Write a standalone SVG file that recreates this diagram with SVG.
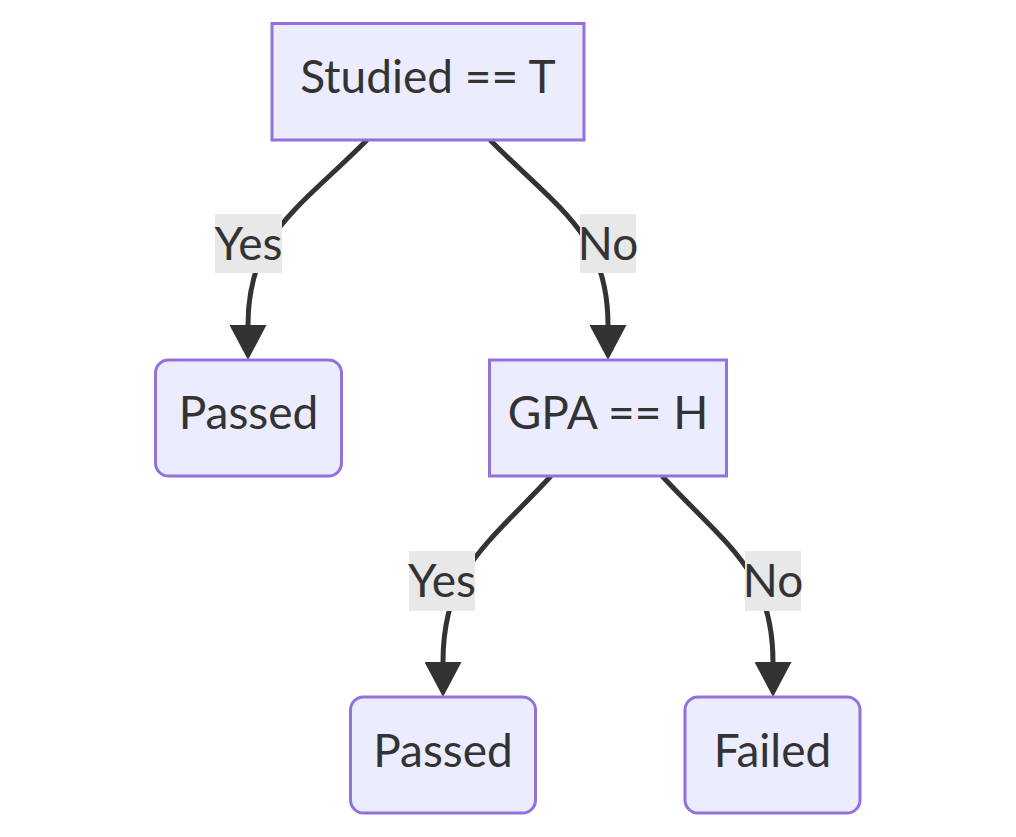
<svg xmlns="http://www.w3.org/2000/svg" width="1016" height="837" viewBox="0 0 1016 837">
<defs>
<style>
.node rect{fill:#ECECFF;stroke:#9370DB;stroke-width:3}
.node text,.elabel text{font-family:Lato,"Open Sans","DejaVu Sans",sans-serif;font-size:46px;fill:#333;text-anchor:middle}
.edge{fill:none;stroke:#333;stroke-width:5}
.elabel rect{fill:#e8e8e8}
</style>
<marker id="arrow" markerUnits="userSpaceOnUse" markerWidth="36" markerHeight="37" viewBox="0 0 36 37" refX="0" refY="18.5" orient="auto">
<path d="M0,0 L35,18.5 L0,37 Z" fill="#333"/>
</marker>
</defs>
<rect width="1016" height="837" fill="#fff"/>
<g id="connectors">
<path class="edge" d="M367,140 C297,210 248,235 248,325" marker-end="url(#arrow)"/>
<path class="edge" d="M490,140 C560,210 608,235 608,325" marker-end="url(#arrow)"/>
<path class="edge" d="M551,476 C486,546 443,571 443,662" marker-end="url(#arrow)"/>
<path class="edge" d="M662,476 C727,546 773,571 773,662" marker-end="url(#arrow)"/>
</g>
<g id="edge-labels">
<g class="elabel" id="label-yes-1"><rect x="215" y="214" width="67" height="59"/><text x="248.5" y="260">Yes</text></g>
<g class="elabel" id="label-no-1"><rect x="580" y="214" width="56" height="59"/><text x="608" y="260">No</text></g>
<g class="elabel" id="label-yes-2"><rect x="409" y="551" width="66" height="60"/><text x="442" y="597">Yes</text></g>
<g class="elabel" id="label-no-2"><rect x="745" y="551" width="56" height="60"/><text x="773" y="597">No</text></g>
</g>
<g class="node" id="studied"><rect x="272" y="23.5" width="312" height="116.5"/><text x="428" y="93">Studied == T</text></g>
<g class="node" id="passed1"><rect x="155.5" y="360" width="186" height="116" rx="13" ry="13"/><text x="248.5" y="429">Passed</text></g>
<g class="node" id="gpa"><rect x="489.5" y="360" width="237" height="116"/><text x="608" y="429">GPA == H</text></g>
<g class="node" id="passed2"><rect x="350.5" y="697" width="185" height="116" rx="13" ry="13"/><text x="443" y="766.5">Passed</text></g>
<g class="node" id="failed"><rect x="685" y="697" width="175" height="116" rx="13" ry="13"/><text x="772.5" y="766.5">Failed</text></g>
</svg>
